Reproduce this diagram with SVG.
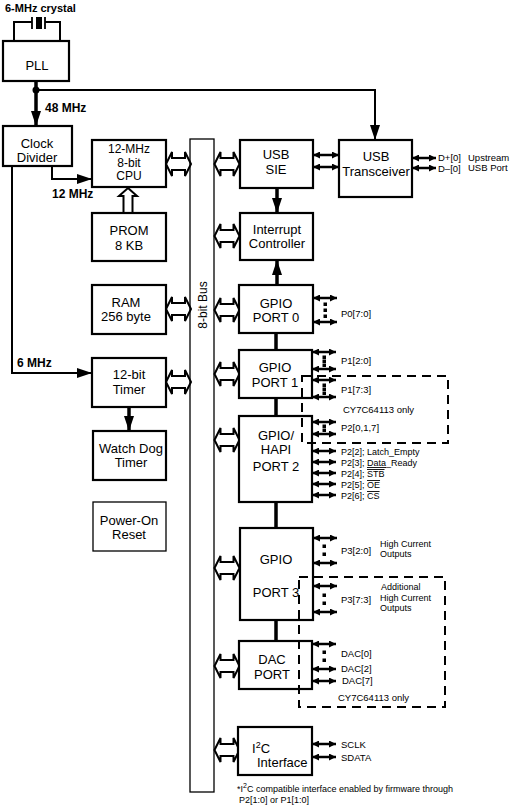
<svg xmlns="http://www.w3.org/2000/svg" width="512" height="806" viewBox="0 0 512 806">
<style>
text{font-family:"Liberation Sans",Arial,sans-serif;fill:#000}
.lbl{font-size:13px;text-anchor:middle}
.b{font-weight:bold;font-size:12px}
.pin{font-size:9.5px}
.sm{font-size:9px}
.box{fill:#fff;stroke:#000;stroke-width:2.2}
.thin{fill:#fff;stroke:#000;stroke-width:1.3}
.ln{fill:none;stroke:#000;stroke-width:2}
.thk{fill:none;stroke:#000;stroke-width:3.5}
.ha{fill:#fff;stroke:#000;stroke-width:2;stroke-linejoin:miter}
.pa{fill:none;stroke:#000;stroke-width:2.5}
.dash{fill:none;stroke:#000;stroke-width:2;stroke-dasharray:9,6}
</style>
<defs>
<marker id="ah" markerUnits="userSpaceOnUse" markerWidth="15" markerHeight="10" refX="15" refY="5" orient="auto">
<path d="M0,0 L15,5 L0,10 z" fill="#000"/>
</marker>
<marker id="sa" markerUnits="userSpaceOnUse" markerWidth="7" markerHeight="7" refX="7" refY="3.5" orient="auto-start-reverse">
<path d="M0,0 L7,3.5 L0,7 z" fill="#000"/>
</marker>
<polygon id="hx" points="0,0 6,-12 6,-6 19,-6 19,-12 25,0 19,12 19,6 6,6 6,12"/>
<rect id="dt" x="-1.5" y="-1.5" width="3.5" height="3.5"/>
</defs>

<g id="connectors">
<!-- crystal -->
<path class="ln" d="M14,41 V22 H32 M45,22 H60 V41"/>
<path d="M32,17 V29 M45,17 V29" stroke="#000" stroke-width="1.8"/>
<rect x="36" y="17" width="6" height="12" fill="#000"/>
<!-- PLL to clock divider and transceiver -->
<path class="thk" d="M36,81 V126" marker-end="url(#ah)" stroke-width="2.5"/>
<path class="ln" d="M36,90 H375 V140" marker-end="url(#ah)" stroke-width="2.5"/>
<circle cx="36" cy="90" r="3.5" fill="#000"/>
<!-- clock divider outputs -->
<path class="ln" d="M52,166 V179 H92" marker-end="url(#ah)"/>
<path class="ln" d="M12,166 V373 H92" marker-end="url(#ah)"/>
<!-- timer to watch dog -->
<path class="thk" d="M129,407 V431" marker-end="url(#ah)" stroke-width="2.5"/>
<!-- PROM to CPU hollow up arrow -->
<polygon class="ha" points="128,188 137,196 132.5,196 132.5,213 123.5,213 123.5,196 119,196"/>
<!-- SIE to interrupt, port0 to interrupt -->
<path class="thk" d="M277,188 V213" marker-end="url(#ah)" stroke-width="3"/>
<path class="thk" d="M277,285 V260" marker-end="url(#ah)" stroke-width="3"/>
<!-- port chain -->
<path class="thk" d="M276,333 V350 M276,398 V416 M276,502 V528 M276,620 V641"/>
<!-- hollow bus arrows -->
<use href="#hx" class="ha" x="166" y="164"/>
<use href="#hx" class="ha" x="166" y="309"/>
<use href="#hx" class="ha" x="166" y="382"/>
<use href="#hx" class="ha" x="214.5" y="164"/>
<use href="#hx" class="ha" x="214.5" y="236"/>
<use href="#hx" class="ha" x="214.5" y="310"/>
<use href="#hx" class="ha" x="214.5" y="374"/>
<use href="#hx" class="ha" x="214.5" y="440"/>
<use href="#hx" class="ha" x="214.5" y="568"/>
<use href="#hx" class="ha" x="214.5" y="666"/>
<use href="#hx" class="ha" x="214.5" y="750"/>
<!-- small pin arrows -->
<g class="pa" marker-start="url(#sa)" marker-end="url(#sa)">
<path d="M313,155 H339"/><path d="M313,167 H339"/>
<path d="M412,158 H436"/><path d="M412,168 H436"/>
<path d="M313,298 H337"/><path d="M313,322 H337"/>
<path d="M312,352 H336"/><path d="M312,369 H336"/>
<path d="M312,380 H336"/><path d="M312,397 H336"/>
<path d="M312,422 H336"/><path d="M312,434 H336"/>
<path d="M312,451 H336"/><path d="M312,462 H336"/><path d="M312,473 H336"/><path d="M312,484 H336"/><path d="M312,495 H336"/>
<path d="M313,538 H337"/><path d="M313,563 H337"/>
<path d="M313,586 H337"/><path d="M313,612 H337"/>
<path d="M312,644 H336"/><path d="M312,669 H336"/><path d="M312,681 H336"/>
<path d="M312,744 H336"/><path d="M312,757 H336"/>
</g>
<g fill="#000">
<use href="#dt" x="325" y="304"/><use href="#dt" x="325" y="310"/><use href="#dt" x="325" y="316"/>
<use href="#dt" x="324" y="357"/><use href="#dt" x="324" y="361"/><use href="#dt" x="324" y="365"/>
<use href="#dt" x="324" y="385"/><use href="#dt" x="324" y="389"/><use href="#dt" x="324" y="393"/>
<use href="#dt" x="324" y="426"/><use href="#dt" x="324" y="430"/>
<use href="#dt" x="324" y="546"/><use href="#dt" x="324" y="554"/>
<use href="#dt" x="324" y="595"/><use href="#dt" x="324" y="603"/>
<use href="#dt" x="324" y="652"/><use href="#dt" x="324" y="660"/>
</g>
</g>

<g id="bus">
<rect x="190" y="139" width="24" height="653" fill="none" stroke="#000" stroke-width="1.3"/>
<text class="lbl" transform="translate(207,305) rotate(-90)" style="font-size:12px">8-bit Bus</text>
</g>

<g id="crystal-label"><text class="b" x="5" y="12" style="font-size:11px">6-MHz crystal</text></g>
<g id="pll"><rect class="box" x="3" y="41" width="66" height="40"/><text class="lbl" x="37" y="70">PLL</text></g>
<text class="b" x="45" y="112">48 MHz</text>
<g id="clock-divider"><rect class="box" x="3" y="126" width="69" height="40"/><text class="lbl" x="37" y="148">Clock</text><text class="lbl" x="37" y="162">Divider</text></g>
<text class="b" x="52" y="198">12 MHz</text>
<text class="b" x="17" y="367">6 MHz</text>
<g id="cpu"><rect class="box" x="92" y="140" width="74" height="47"/><text class="lbl" x="129" y="153" style="font-size:12px">12-MHz</text><text class="lbl" x="129" y="166.5" style="font-size:12px">8-bit</text><text class="lbl" x="129" y="180" style="font-size:12px">CPU</text></g>
<g id="prom"><rect class="box" x="92" y="213" width="74" height="48"/><text class="lbl" x="129" y="235">PROM</text><text class="lbl" x="129" y="250">8 KB</text></g>
<g id="ram"><rect class="box" x="92" y="285" width="74" height="49"/><text class="lbl" x="126" y="307">RAM</text><text class="lbl" x="126" y="321">256 byte</text></g>
<g id="timer"><rect class="box" x="92" y="358" width="74" height="49"/><text class="lbl" x="129" y="379">12-bit</text><text class="lbl" x="129" y="393.5">Timer</text></g>
<g id="watchdog"><rect class="box" x="93" y="431" width="73" height="49"/><text class="lbl" x="131" y="453">Watch Dog</text><text class="lbl" x="131" y="467">Timer</text></g>
<g id="por"><rect class="thin" x="93" y="502" width="73" height="49"/><text class="lbl" x="129" y="525">Power-On</text><text class="lbl" x="129" y="539">Reset</text></g>

<g id="usb-sie"><rect class="box" x="240" y="140" width="73" height="48"/><text class="lbl" x="276" y="159">USB</text><text class="lbl" x="276" y="173.5">SIE</text></g>
<g id="usb-transceiver"><rect class="box" x="339" y="140" width="73" height="57"/><text class="lbl" x="376" y="161">USB</text><text class="lbl" x="376" y="175.5">Transceiver</text></g>
<g id="usb-pins"><text class="pin" x="438" y="161">D+[0]</text><text class="pin" x="468" y="161">Upstream</text><text class="pin" x="438" y="172">D–[0]</text><text class="pin" x="468" y="171">USB Port</text></g>
<g id="interrupt"><rect class="box" x="240" y="213" width="73" height="47"/><text class="lbl" x="277" y="234">Interrupt</text><text class="lbl" x="277" y="248">Controller</text></g>
<g id="port0"><rect class="box" x="239" y="285" width="74" height="48"/><text class="lbl" x="276" y="308">GPIO</text><text class="lbl" x="276" y="322">PORT 0</text><text class="pin" x="341" y="317">P0[7:0]</text></g>
<g id="port1"><rect class="box" x="239" y="350" width="73" height="48"/><text class="lbl" x="275" y="372">GPIO</text><text class="lbl" x="275" y="387">PORT 1</text><text class="pin" x="341" y="364">P1[2:0]</text><text class="pin" x="341" y="393">P1[7:3]</text></g>
<g id="port2"><rect class="box" x="239" y="416" width="73" height="86"/><text class="lbl" x="276" y="440">GPIO/</text><text class="lbl" x="276" y="454">HAPI</text><text class="lbl" x="276" y="471">PORT 2</text>
<text class="pin" x="341" y="431">P2[0,1,7]</text>
<text class="pin sm" x="341" y="455">P2[2]; Latch_Empty</text>
<text class="pin sm" x="341" y="466">P2[3]; <tspan text-decoration="underline">Data</tspan>_Ready</text>
<text class="pin sm" x="341" y="477">P2[4]; <tspan text-decoration="overline">STB</tspan></text>
<text class="pin sm" x="341" y="488">P2[5]; <tspan text-decoration="overline">OE</tspan></text>
<text class="pin sm" x="341" y="499">P2[6]; <tspan text-decoration="overline">CS</tspan></text></g>
<g id="port3"><rect class="box" x="240" y="528" width="73" height="92"/><text class="lbl" x="276" y="564">GPIO</text><text class="lbl" x="276" y="597">PORT 3</text>
<text class="pin" x="341" y="554">P3[2:0]</text><text class="pin sm" x="380" y="546.5">High Current</text><text class="pin sm" x="380" y="557">Outputs</text>
<text class="pin" x="341" y="603">P3[7:3]</text><text class="pin sm" x="381" y="590">Additional</text><text class="pin sm" x="380" y="600.5">High Current</text><text class="pin sm" x="380" y="611">Outputs</text></g>
<g id="dac"><rect class="box" x="239" y="641" width="73" height="48"/><text class="lbl" x="272" y="664">DAC</text><text class="lbl" x="272" y="678.5">PORT</text>
<text class="pin" x="341" y="657">DAC[0]</text><text class="pin" x="341" y="672">DAC[2]</text><text class="pin" x="342" y="684">DAC[7]</text></g>
<g id="i2c"><rect class="box" x="238" y="727" width="74" height="48"/><text x="252" y="753" style="font-size:13px">I<tspan dy="-5" style="font-size:9px">2</tspan><tspan dy="5">C</tspan></text><text x="257" y="767" style="font-size:13px">Interface</text>
<text class="pin" x="341" y="748">SCLK</text><text class="pin" x="341" y="761">SDATA</text></g>

<g id="options">
<rect class="dash" x="302" y="376" width="146" height="67"/>
<text class="pin" x="343" y="413">CY7C64113 only</text>
<rect class="dash" x="299" y="577" width="146" height="130"/>
<text class="pin" x="338" y="701">CY7C64113 only</text>
</g>
<g id="footnote">
<text class="pin" x="237" y="792" style="font-size:9px">*I<tspan dy="-4" style="font-size:7px">2</tspan><tspan dy="4">C compatible interface enabled by firmware through</tspan></text>
<text class="pin" x="239" y="803" style="font-size:9px">P2[1:0] or P1[1:0]</text>
</g>
</svg>
